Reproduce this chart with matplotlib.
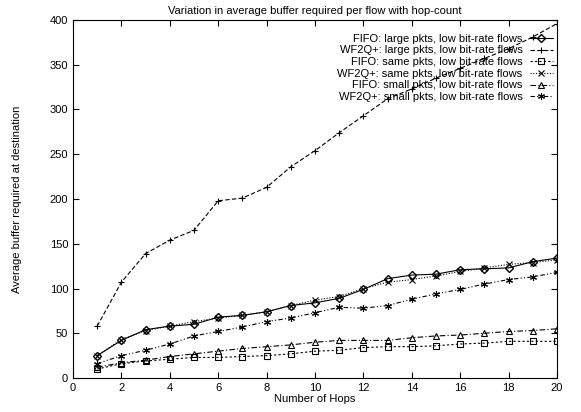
import numpy as np
import matplotlib.pyplot as plt

plt.rcParams['font.family'] = ['Liberation Sans', 'DejaVu Sans']

hops = np.arange(1, 21)

fifo_large = [25, 42, 54, 58, 60, 68, 70, 74, 81, 84, 89, 99, 111, 115, 116, 121, 122, 123, 130, 134]
wf2q_large = [58, 107, 139, 154, 165, 198, 201, 213, 236, 254, 274, 293, 312, 323, 335, 346, 357, 368, 381, 396]
fifo_same = [10, 16, 19, 21, 23, 23, 24, 25, 27, 30, 31, 34, 35, 35, 36, 38, 39, 41, 41, 41]
wf2q_same = [25, 43, 53, 58, 63, 67, 70, 74, 81, 87, 91, 100, 107, 110, 114, 119, 123, 127, 129, 132]
fifo_small = [12, 17, 20, 24, 27, 30, 33, 35, 37, 40, 42, 42, 42, 45, 47, 48, 50, 52, 53, 55]
wf2q_small = [16, 25, 31, 38, 47, 52, 57, 63, 67, 73, 79, 78, 81, 88, 94, 99, 105, 110, 113, 118]

labels = [
    'FIFO: large pkts, low bit-rate flows',
    'WF2Q+: large pkts, low bit-rate flows',
    'FIFO: same pkts, low bit-rate flows',
    'WF2Q+: same pkts, low bit-rate flows',
    'FIFO: small pkts, low bit-rate flows',
    'WF2Q+: small pkts, low bit-rate flows',
]

fig = plt.figure(figsize=(5.81, 4.12), dpi=100)
ax = fig.add_axes([0.1256, 0.0825, 0.8331, 0.869])

# gnuplot-like monochrome styles
ax.plot(hops, fifo_large, ls='-', marker='D', ms=3.8, mfc='none', color='black', lw=0.8, mew=1.0, label=labels[0])
ax.plot(hops, wf2q_large, ls=(0, (4, 2)), marker='+', ms=5, color='black', lw=0.8, mew=0.8, label=labels[1])
ax.plot(hops, fifo_same, ls=(0, (2, 2)), marker='s', ms=4.5, mfc='none', color='black', lw=0.8, mew=0.8, label=labels[2])
ax.plot(hops, wf2q_same, ls=(0, (1, 1.5)), marker='x', ms=4.5, color='black', lw=0.8, mew=0.8, label=labels[3])
ax.plot(hops, fifo_small, ls=(0, (5, 2, 1, 2)), marker='^', ms=4.5, mfc='none', color='black', lw=0.8, mew=0.8, label=labels[4])
ax.plot(hops, wf2q_small, ls=(0, (4, 2, 1, 2, 1, 2)), marker=(6, 2, 0), ms=5, color='black', lw=0.8, mew=0.8, label=labels[5])

ax.set_xlim(0, 20)
ax.set_ylim(0, 400)
ax.set_xticks(np.arange(0, 21, 2))
ax.set_yticks(np.arange(0, 401, 50))
ax.tick_params(direction='in', top=True, right=True, labelsize=8, length=4)
ax.set_xlabel('Number of Hops', fontsize=8, labelpad=1)
ax.set_ylabel('Average buffer required at destination', fontsize=8, labelpad=20)
ax.set_title('Variation in average buffer required per flow with hop-count', fontsize=8, pad=4)

leg = ax.legend(loc='upper right', bbox_to_anchor=(1.0, 0.974), frameon=False, fontsize=8,
                markerfirst=False, handlelength=2.07, labelspacing=0.15, handletextpad=0.63,
                borderaxespad=0, numpoints=1)
for t in leg.get_texts():
    t.set_ha('right')
leg._legend_box.align = 'right'

fig.savefig('out.png', dpi=100)
